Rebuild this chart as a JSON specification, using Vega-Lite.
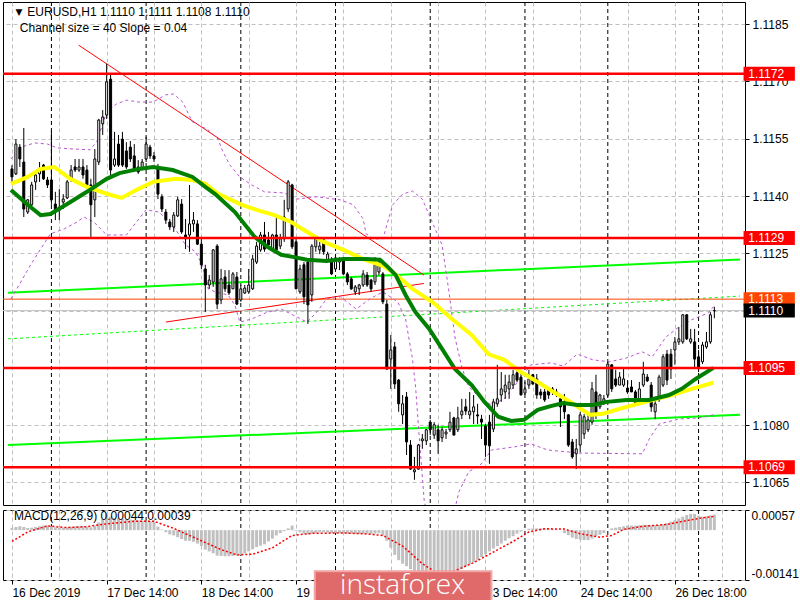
{
"$schema": "https://vega.github.io/schema/vega-lite/v6.json",
"background": "#ffffff",
"padding": {"left": 1, "top": 1, "right": 0, "bottom": 0},
"spacing": 2,
"config": {
 "view": {"stroke": "#000000", "strokeWidth": 1},
 "font": "Liberation Sans",
 "axis": {"labelFont": "Liberation Sans", "labelFontSize": 12, "labelColor": "#000000", "tickColor": "#000000", "gridColor": "#c0c0c0", "gridDash": [4, 3], "gridWidth": 1, "gridOpacity": 1, "domain": false},
 "text": {"font": "Liberation Sans", "fontSize": 12}
},
"datasets": {
 "seps": [{"i":10},{"i":34},{"i":58},{"i":82},{"i":106},{"i":130},{"i":151},{"i":174}],
 "levels": [{"p":1.1172},{"p":1.1129},{"p":1.1095},{"p":1.1069}],
 "order": [{"p":1.1113}],
 "bid": [{"p":1.111}],
 "tags": [{"p":1.1172,"k":"level"},{"p":1.1129,"k":"level"},{"p":1.1095,"k":"level"},{"p":1.1069,"k":"level"},{"p":1.1113,"k":"order"},{"p":1.111,"k":"bid"}],
 "chan": [{"s":"up","i":-1,"p":1.11147},{"s":"up","i":184.5,"p":1.11234},{"s":"mid","i":-1,"p":1.11026},{"s":"mid","i":184.5,"p":1.11138},{"s":"lo","i":-1,"p":1.10748},{"s":"lo","i":184.5,"p":1.10827}],
 "trend": [{"s":"a","i":16.9,"p":1.11795},{"s":"a","i":104.4,"p":1.11193},{"s":"b","i":39,"p":1.1107},{"s":"b","i":104.4,"p":1.11171}],
 "maY": [{"i":-0.25,"p":1.11432},{"i":4,"p":1.1145},{"i":7.25,"p":1.11471},{"i":10.75,"p":1.11476},{"i":14.75,"p":1.11445},{"i":19,"p":1.11424},{"i":24,"p":1.11406},{"i":27.75,"p":1.11395},{"i":31.5,"p":1.11416},{"i":35.75,"p":1.11437},{"i":41.5,"p":1.11445},{"i":45.75,"p":1.11442},{"i":49,"p":1.11432},{"i":52.25,"p":1.11406},{"i":58.25,"p":1.11377},{"i":62.25,"p":1.11363},{"i":66.5,"p":1.1135},{"i":70.75,"p":1.11332},{"i":74,"p":1.11311},{"i":79,"p":1.1128},{"i":84,"p":1.11259},{"i":89,"p":1.11235},{"i":94,"p":1.11217},{"i":96.5,"p":1.11201},{"i":101.5,"p":1.11157},{"i":106.5,"p":1.11123},{"i":111.5,"p":1.11078},{"i":116.5,"p":1.11036},{"i":120.75,"p":1.10986},{"i":124.75,"p":1.10971},{"i":129,"p":1.10939},{"i":133.25,"p":1.10913},{"i":137.25,"p":1.10887},{"i":141.5,"p":1.10861},{"i":146.5,"p":1.10827},{"i":149.75,"p":1.1083},{"i":155.75,"p":1.10848},{"i":162.25,"p":1.10866},{"i":167.25,"p":1.10879},{"i":172.25,"p":1.10895},{"i":177.75,"p":1.10911}],
 "maG": [{"i":-0.25,"p":1.11416},{"i":4,"p":1.11377},{"i":7.25,"p":1.1135},{"i":9.75,"p":1.11353},{"i":14,"p":1.11379},{"i":19,"p":1.11411},{"i":24,"p":1.11445},{"i":27.25,"p":1.1146},{"i":32.25,"p":1.11471},{"i":35.75,"p":1.11476},{"i":40.75,"p":1.11468},{"i":45.75,"p":1.1145},{"i":49,"p":1.11424},{"i":51.5,"p":1.11405},{"i":56.5,"p":1.11358},{"i":61.5,"p":1.11293},{"i":64.75,"p":1.11267},{"i":68.25,"p":1.11246},{"i":71.5,"p":1.1124},{"i":74.75,"p":1.11233},{"i":79.75,"p":1.1123},{"i":84,"p":1.11235},{"i":89.75,"p":1.11235},{"i":93.25,"p":1.11233},{"i":95.5,"p":1.11212},{"i":97.25,"p":1.11193},{"i":99.75,"p":1.11141},{"i":102.25,"p":1.11096},{"i":105.75,"p":1.11052},{"i":109,"p":1.11},{"i":112.25,"p":1.10947},{"i":116.5,"p":1.10905},{"i":119.75,"p":1.10861},{"i":123.25,"p":1.10822},{"i":126.5,"p":1.10811},{"i":129.75,"p":1.10814},{"i":133.25,"p":1.1084},{"i":136.5,"p":1.1085},{"i":139.75,"p":1.10858},{"i":143.25,"p":1.10853},{"i":147.25,"p":1.10853},{"i":150.75,"p":1.10861},{"i":155.75,"p":1.10866},{"i":161.5,"p":1.10866},{"i":166.5,"p":1.10879},{"i":169.75,"p":1.10895},{"i":173.25,"p":1.10921},{"i":177.75,"p":1.1095}],
 "bands": [
  {"s":"u","i":-0.25,"p":1.11497},{"s":"u","i":2.25,"p":1.11528},{"s":"u","i":5.75,"p":1.11539},{"s":"u","i":9,"p":1.11536},{"s":"u","i":11.5,"p":1.11526},{"s":"u","i":15.75,"p":1.11523},{"s":"u","i":19.75,"p":1.11521},{"s":"u","i":21.5,"p":1.11542},{"s":"u","i":24,"p":1.1162},{"s":"u","i":26.5,"p":1.11641},{"s":"u","i":29,"p":1.11651},{"s":"u","i":32.25,"p":1.11646},{"s":"u","i":35.75,"p":1.11646},{"s":"u","i":39,"p":1.11665},{"s":"u","i":41,"p":1.11667},{"s":"u","i":43.25,"p":1.11646},{"s":"u","i":45.75,"p":1.11594},{"s":"u","i":49.75,"p":1.11573},{"s":"u","i":52.25,"p":1.11549},{"s":"u","i":53.5,"p":1.11515},{"s":"u","i":55.25,"p":1.11481},{"s":"u","i":57.75,"p":1.1145},{"s":"u","i":60.75,"p":1.11429},{"s":"u","i":64,"p":1.11411},{"s":"u","i":69,"p":1.11408},{"s":"u","i":72.25,"p":1.11392},{"s":"u","i":77.25,"p":1.11398},{"s":"u","i":83.25,"p":1.1139},{"s":"u","i":86.5,"p":1.11377},{"s":"u","i":89,"p":1.1134},{"s":"u","i":89.75,"p":1.11301},{"s":"u","i":91.5,"p":1.11288},{"s":"u","i":94,"p":1.11288},{"s":"u","i":96.5,"p":1.11377},{"s":"u","i":99,"p":1.11405},{"s":"u","i":101.5,"p":1.11413},{"s":"u","i":104,"p":1.11392},{"s":"u","i":106.5,"p":1.11332},{"s":"u","i":109,"p":1.11272},{"s":"u","i":110.75,"p":1.11149},{"s":"u","i":112.25,"p":1.11031},{"s":"u","i":114,"p":1.10952},{"s":"u","i":115.75,"p":1.109},{"s":"u","i":119,"p":1.10869},{"s":"u","i":121.5,"p":1.10853},{"s":"u","i":124.75,"p":1.10869},{"s":"u","i":127.75,"p":1.10908},{"s":"u","i":131.5,"p":1.10958},{"s":"u","i":136.5,"p":1.10963},{"s":"u","i":139.75,"p":1.10955},{"s":"u","i":143.25,"p":1.10986},{"s":"u","i":147.25,"p":1.10971},{"s":"u","i":151.5,"p":1.10966},{"s":"u","i":155.75,"p":1.10976},{"s":"u","i":159.75,"p":1.10992},{"s":"u","i":162.25,"p":1.10979},{"s":"u","i":165.75,"p":1.11031},{"s":"u","i":169,"p":1.11057},{"s":"u","i":172.25,"p":1.11076},{"s":"u","i":176.5,"p":1.11094},{"s":"u","i":177.75,"p":1.1111},
  {"s":"l","i":-0.25,"p":1.11131},{"s":"l","i":2.25,"p":1.11175},{"s":"l","i":4.75,"p":1.1122},{"s":"l","i":7.25,"p":1.11261},{"s":"l","i":9.75,"p":1.11301},{"s":"l","i":13.25,"p":1.11314},{"s":"l","i":16.5,"p":1.11332},{"s":"l","i":18.25,"p":1.11345},{"s":"l","i":20.75,"p":1.11332},{"s":"l","i":24,"p":1.11298},{"s":"l","i":29,"p":1.11298},{"s":"l","i":34,"p":1.11364},{"s":"l","i":37.25,"p":1.11358},{"s":"l","i":40.75,"p":1.11324},{"s":"l","i":44,"p":1.11272},{"s":"l","i":46.5,"p":1.11254},{"s":"l","i":48.25,"p":1.1122},{"s":"l","i":49.75,"p":1.11157},{"s":"l","i":51.5,"p":1.11149},{"s":"l","i":54.75,"p":1.11141},{"s":"l","i":56.5,"p":1.11115},{"s":"l","i":57.75,"p":1.1107},{"s":"l","i":60.75,"p":1.11078},{"s":"l","i":64.75,"p":1.11096},{"s":"l","i":68.25,"p":1.11104},{"s":"l","i":74.75,"p":1.1107},{"s":"l","i":77.25,"p":1.11096},{"s":"l","i":79.75,"p":1.11131},{"s":"l","i":83.25,"p":1.11136},{"s":"l","i":87.25,"p":1.11104},{"s":"l","i":90.75,"p":1.11131},{"s":"l","i":94,"p":1.11149},{"s":"l","i":97.75,"p":1.11123},{"s":"l","i":99.75,"p":1.11078},{"s":"l","i":101.5,"p":1.10973},{"s":"l","i":102.25,"p":1.10905},{"s":"l","i":103.25,"p":1.10764},{"s":"l","i":104.5,"p":1.10599},{"s":"l","i":106.5,"p":1.10521},{"s":"l","i":109,"p":1.10494},{"s":"l","i":111.5,"p":1.10547},{"s":"l","i":113.25,"p":1.10625},{"s":"l","i":115.75,"p":1.10678},{"s":"l","i":119,"p":1.10699},{"s":"l","i":121.5,"p":1.10735},{"s":"l","i":127.25,"p":1.10743},{"s":"l","i":131.5,"p":1.10751},{"s":"l","i":135.75,"p":1.10735},{"s":"l","i":144,"p":1.10727},{"s":"l","i":159.75,"p":1.10725},{"s":"l","i":161.5,"p":1.10764},{"s":"l","i":164,"p":1.10803},{"s":"l","i":169,"p":1.10816},{"s":"l","i":174,"p":1.10819},{"s":"l","i":177.75,"p":1.10827}
 ],
 "candles": [
  {"i":0,"o":1.11471,"h":1.11481,"l":1.11432,"c":1.1145},
  {"i":1,"o":1.11458,"h":1.11549,"l":1.11455,"c":1.11536},
  {"i":2,"o":1.11528,"h":1.11536,"l":1.11476,"c":1.11497},
  {"i":3,"o":1.11489,"h":1.11578,"l":1.11345,"c":1.11366},
  {"i":4,"o":1.11358,"h":1.11392,"l":1.11353,"c":1.1139},
  {"i":5,"o":1.11377,"h":1.11437,"l":1.11374,"c":1.11429},
  {"i":6,"o":1.11437,"h":1.11468,"l":1.11416,"c":1.11455},
  {"i":7,"o":1.11458,"h":1.11489,"l":1.11437,"c":1.11468},
  {"i":8,"o":1.11481,"h":1.11484,"l":1.11442,"c":1.11445},
  {"i":9,"o":1.11442,"h":1.1145,"l":1.11421,"c":1.11429},
  {"i":10,"o":1.11442,"h":1.1157,"l":1.11377,"c":1.1139},
  {"i":11,"o":1.11379,"h":1.11411,"l":1.11337,"c":1.11358},
  {"i":12,"o":1.11363,"h":1.11418,"l":1.11337,"c":1.11371},
  {"i":13,"o":1.11384,"h":1.11405,"l":1.11366,"c":1.11392},
  {"i":14,"o":1.11395,"h":1.11442,"l":1.11392,"c":1.11437},
  {"i":15,"o":1.11445,"h":1.11481,"l":1.11437,"c":1.11468},
  {"i":16,"o":1.11476,"h":1.11497,"l":1.11463,"c":1.11468},
  {"i":17,"o":1.11468,"h":1.11497,"l":1.11463,"c":1.11476},
  {"i":18,"o":1.11476,"h":1.11497,"l":1.11445,"c":1.11455},
  {"i":19,"o":1.11468,"h":1.11481,"l":1.11418,"c":1.11429},
  {"i":20,"o":1.11429,"h":1.11445,"l":1.11288,"c":1.11377},
  {"i":21,"o":1.1139,"h":1.11523,"l":1.11345,"c":1.11497},
  {"i":22,"o":1.11489,"h":1.11602,"l":1.11481,"c":1.11599},
  {"i":23,"o":1.11589,"h":1.11625,"l":1.1156,"c":1.11607},
  {"i":24,"o":1.11612,"h":1.11746,"l":1.11602,"c":1.11699},
  {"i":25,"o":1.11706,"h":1.1172,"l":1.11455,"c":1.11468},
  {"i":26,"o":1.11481,"h":1.11568,"l":1.11476,"c":1.11497},
  {"i":27,"o":1.11536,"h":1.1156,"l":1.11476,"c":1.11481},
  {"i":28,"o":1.11549,"h":1.11568,"l":1.11476,"c":1.11481},
  {"i":29,"o":1.11518,"h":1.11541,"l":1.11471,"c":1.11476},
  {"i":30,"o":1.11528,"h":1.11544,"l":1.11489,"c":1.11497},
  {"i":31,"o":1.11505,"h":1.11536,"l":1.11463,"c":1.11468},
  {"i":32,"o":1.11476,"h":1.11494,"l":1.11458,"c":1.11463},
  {"i":33,"o":1.11471,"h":1.11497,"l":1.11468,"c":1.11489},
  {"i":34,"o":1.11497,"h":1.11555,"l":1.11489,"c":1.11536},
  {"i":35,"o":1.11528,"h":1.11534,"l":1.11497,"c":1.11505},
  {"i":36,"o":1.11505,"h":1.11515,"l":1.11489,"c":1.11497},
  {"i":37,"o":1.11476,"h":1.11484,"l":1.11392,"c":1.11405},
  {"i":38,"o":1.11398,"h":1.11405,"l":1.11358,"c":1.11366},
  {"i":39,"o":1.11358,"h":1.11366,"l":1.11327,"c":1.11337},
  {"i":40,"o":1.11332,"h":1.1134,"l":1.11311,"c":1.11319},
  {"i":41,"o":1.11319,"h":1.11358,"l":1.11306,"c":1.1135},
  {"i":42,"o":1.11348,"h":1.11398,"l":1.11345,"c":1.1139},
  {"i":43,"o":1.11379,"h":1.11392,"l":1.11301,"c":1.11306},
  {"i":44,"o":1.11298,"h":1.1134,"l":1.11261,"c":1.11288},
  {"i":45,"o":1.11298,"h":1.11429,"l":1.11254,"c":1.11327},
  {"i":46,"o":1.11327,"h":1.11358,"l":1.11306,"c":1.11337},
  {"i":47,"o":1.11327,"h":1.11337,"l":1.11272,"c":1.11274},
  {"i":48,"o":1.11274,"h":1.11293,"l":1.11209,"c":1.1122},
  {"i":49,"o":1.11209,"h":1.1122,"l":1.11096,"c":1.11167},
  {"i":50,"o":1.11167,"h":1.11193,"l":1.11157,"c":1.1118},
  {"i":51,"o":1.11175,"h":1.11261,"l":1.11162,"c":1.11259},
  {"i":52,"o":1.11269,"h":1.11274,"l":1.11104,"c":1.11117},
  {"i":53,"o":1.11128,"h":1.11209,"l":1.11117,"c":1.11183},
  {"i":54,"o":1.11188,"h":1.11206,"l":1.11149,"c":1.11157},
  {"i":55,"o":1.11167,"h":1.11206,"l":1.11141,"c":1.11146},
  {"i":56,"o":1.11157,"h":1.11201,"l":1.11157,"c":1.11196},
  {"i":57,"o":1.11188,"h":1.11201,"l":1.11115,"c":1.11117},
  {"i":58,"o":1.11128,"h":1.11167,"l":1.11123,"c":1.11157},
  {"i":59,"o":1.11146,"h":1.11167,"l":1.11144,"c":1.11159},
  {"i":60,"o":1.11149,"h":1.11209,"l":1.11144,"c":1.11167},
  {"i":61,"o":1.11157,"h":1.11246,"l":1.11154,"c":1.11235},
  {"i":62,"o":1.11227,"h":1.1128,"l":1.11222,"c":1.11269},
  {"i":63,"o":1.11259,"h":1.11306,"l":1.11254,"c":1.11298},
  {"i":64,"o":1.11298,"h":1.11332,"l":1.11254,"c":1.11261},
  {"i":65,"o":1.11285,"h":1.11306,"l":1.11261,"c":1.11272},
  {"i":66,"o":1.11259,"h":1.11301,"l":1.11254,"c":1.11298},
  {"i":67,"o":1.11298,"h":1.1135,"l":1.11254,"c":1.11259},
  {"i":68,"o":1.11269,"h":1.11301,"l":1.11261,"c":1.11288},
  {"i":69,"o":1.11288,"h":1.1139,"l":1.1128,"c":1.11345},
  {"i":70,"o":1.11366,"h":1.11442,"l":1.11358,"c":1.11437},
  {"i":71,"o":1.11429,"h":1.11432,"l":1.11261,"c":1.11267},
  {"i":72,"o":1.1128,"h":1.11288,"l":1.11157,"c":1.11157},
  {"i":73,"o":1.11149,"h":1.1122,"l":1.11144,"c":1.11209},
  {"i":74,"o":1.1122,"h":1.11227,"l":1.11117,"c":1.11136},
  {"i":75,"o":1.11227,"h":1.11235,"l":1.11065,"c":1.11115},
  {"i":76,"o":1.11141,"h":1.11274,"l":1.11123,"c":1.11269},
  {"i":77,"o":1.11267,"h":1.11293,"l":1.11254,"c":1.11288},
  {"i":78,"o":1.11259,"h":1.1128,"l":1.11248,"c":1.11269},
  {"i":79,"o":1.11285,"h":1.11288,"l":1.11246,"c":1.11254},
  {"i":80,"o":1.11233,"h":1.11254,"l":1.11227,"c":1.11248},
  {"i":81,"o":1.11235,"h":1.1124,"l":1.11193,"c":1.11196},
  {"i":82,"o":1.11209,"h":1.1124,"l":1.11206,"c":1.11238},
  {"i":83,"o":1.11227,"h":1.1124,"l":1.11206,"c":1.11235},
  {"i":84,"o":1.11235,"h":1.1124,"l":1.11193,"c":1.11196},
  {"i":85,"o":1.11196,"h":1.11201,"l":1.11167,"c":1.11175},
  {"i":86,"o":1.11183,"h":1.11188,"l":1.11154,"c":1.11157},
  {"i":87,"o":1.11149,"h":1.11167,"l":1.11141,"c":1.11162},
  {"i":88,"o":1.11157,"h":1.1117,"l":1.11141,"c":1.11167},
  {"i":89,"o":1.11167,"h":1.11206,"l":1.11162,"c":1.11196},
  {"i":90,"o":1.11193,"h":1.11201,"l":1.11162,"c":1.11167},
  {"i":91,"o":1.1118,"h":1.11183,"l":1.11149,"c":1.11157},
  {"i":92,"o":1.11175,"h":1.1124,"l":1.11167,"c":1.1122},
  {"i":93,"o":1.11201,"h":1.11235,"l":1.11193,"c":1.11227},
  {"i":94,"o":1.11196,"h":1.11201,"l":1.11117,"c":1.11123},
  {"i":95,"o":1.11117,"h":1.11128,"l":1.10945,"c":1.10947},
  {"i":96,"o":1.10973,"h":1.11036,"l":1.10895,"c":1.10997},
  {"i":97,"o":1.11005,"h":1.11018,"l":1.10895,"c":1.10908},
  {"i":98,"o":1.10918,"h":1.10921,"l":1.10835,"c":1.10856},
  {"i":99,"o":1.10827,"h":1.10879,"l":1.10803,"c":1.10856},
  {"i":100,"o":1.10874,"h":1.10887,"l":1.10722,"c":1.10756},
  {"i":101,"o":1.10748,"h":1.10761,"l":1.10683,"c":1.10685},
  {"i":102,"o":1.10678,"h":1.10717,"l":1.10657,"c":1.10683},
  {"i":103,"o":1.10685,"h":1.10751,"l":1.10683,"c":1.10748},
  {"i":104,"o":1.10759,"h":1.10777,"l":1.10738,"c":1.10764},
  {"i":105,"o":1.10759,"h":1.1079,"l":1.10748,"c":1.10788},
  {"i":106,"o":1.10808,"h":1.10814,"l":1.10774,"c":1.10788},
  {"i":107,"o":1.10774,"h":1.10808,"l":1.10764,"c":1.10801},
  {"i":108,"o":1.10788,"h":1.10801,"l":1.10725,"c":1.10759},
  {"i":109,"o":1.10767,"h":1.10795,"l":1.10756,"c":1.10788},
  {"i":110,"o":1.10777,"h":1.1079,"l":1.10764,"c":1.10782},
  {"i":111,"o":1.10788,"h":1.10835,"l":1.10782,"c":1.10808},
  {"i":112,"o":1.10819,"h":1.10822,"l":1.10774,"c":1.10774},
  {"i":113,"o":1.10788,"h":1.10848,"l":1.10782,"c":1.10819},
  {"i":114,"o":1.10827,"h":1.10869,"l":1.10816,"c":1.10837},
  {"i":115,"o":1.10848,"h":1.10869,"l":1.10827,"c":1.10837},
  {"i":116,"o":1.10827,"h":1.10887,"l":1.10816,"c":1.10837},
  {"i":117,"o":1.10835,"h":1.10879,"l":1.10803,"c":1.10848},
  {"i":118,"o":1.10827,"h":1.10856,"l":1.10803,"c":1.10824},
  {"i":119,"o":1.10816,"h":1.10827,"l":1.10764,"c":1.10808},
  {"i":120,"o":1.10798,"h":1.10803,"l":1.10717,"c":1.10748},
  {"i":121,"o":1.10808,"h":1.10827,"l":1.10699,"c":1.10746},
  {"i":122,"o":1.1079,"h":1.10869,"l":1.10782,"c":1.10861},
  {"i":123,"o":1.10856,"h":1.10958,"l":1.10848,"c":1.10869},
  {"i":124,"o":1.10879,"h":1.10939,"l":1.10861,"c":1.10895},
  {"i":125,"o":1.10887,"h":1.10932,"l":1.10869,"c":1.10905},
  {"i":126,"o":1.10895,"h":1.10932,"l":1.10869,"c":1.10913},
  {"i":127,"o":1.10905,"h":1.10945,"l":1.10895,"c":1.10932},
  {"i":128,"o":1.10937,"h":1.10947,"l":1.10913,"c":1.10918},
  {"i":129,"o":1.10926,"h":1.10939,"l":1.10879,"c":1.10879},
  {"i":130,"o":1.10884,"h":1.10913,"l":1.10879,"c":1.10895},
  {"i":131,"o":1.10905,"h":1.10945,"l":1.10895,"c":1.10921},
  {"i":132,"o":1.10932,"h":1.10934,"l":1.10905,"c":1.10908},
  {"i":133,"o":1.10921,"h":1.10934,"l":1.10869,"c":1.10879},
  {"i":134,"o":1.10887,"h":1.10895,"l":1.10869,"c":1.10879},
  {"i":135,"o":1.10887,"h":1.10895,"l":1.10861,"c":1.10866},
  {"i":136,"o":1.10895,"h":1.109,"l":1.10869,"c":1.10879},
  {"i":137,"o":1.10895,"h":1.109,"l":1.10879,"c":1.10887},
  {"i":138,"o":1.10879,"h":1.10895,"l":1.10874,"c":1.10887},
  {"i":139,"o":1.10869,"h":1.10879,"l":1.10795,"c":1.10848},
  {"i":140,"o":1.10861,"h":1.10882,"l":1.10816,"c":1.10835},
  {"i":141,"o":1.10827,"h":1.10829,"l":1.10743,"c":1.10748},
  {"i":142,"o":1.10756,"h":1.10764,"l":1.10712,"c":1.10717},
  {"i":143,"o":1.10725,"h":1.10764,"l":1.10685,"c":1.10738},
  {"i":144,"o":1.10748,"h":1.10835,"l":1.1073,"c":1.10827},
  {"i":145,"o":1.10777,"h":1.10829,"l":1.10764,"c":1.10822},
  {"i":146,"o":1.10788,"h":1.10827,"l":1.10782,"c":1.10814},
  {"i":147,"o":1.10808,"h":1.10913,"l":1.10801,"c":1.10895},
  {"i":148,"o":1.10887,"h":1.10932,"l":1.10816,"c":1.10827},
  {"i":149,"o":1.10848,"h":1.10882,"l":1.10842,"c":1.10879},
  {"i":150,"o":1.10861,"h":1.10879,"l":1.10853,"c":1.10869},
  {"i":151,"o":1.10879,"h":1.10966,"l":1.10874,"c":1.1096},
  {"i":152,"o":1.10958,"h":1.1096,"l":1.10887,"c":1.10895},
  {"i":153,"o":1.10921,"h":1.10945,"l":1.109,"c":1.10905},
  {"i":154,"o":1.10905,"h":1.10939,"l":1.10905,"c":1.10926},
  {"i":155,"o":1.10905,"h":1.10947,"l":1.109,"c":1.10921},
  {"i":156,"o":1.10897,"h":1.10918,"l":1.10882,"c":1.10887},
  {"i":157,"o":1.109,"h":1.10918,"l":1.10887,"c":1.10887},
  {"i":158,"o":1.10887,"h":1.10892,"l":1.10853,"c":1.10856},
  {"i":159,"o":1.10869,"h":1.10913,"l":1.10866,"c":1.10895},
  {"i":160,"o":1.10905,"h":1.10966,"l":1.109,"c":1.10934},
  {"i":161,"o":1.10926,"h":1.10934,"l":1.10913,"c":1.10916},
  {"i":162,"o":1.10905,"h":1.10913,"l":1.10835,"c":1.10848},
  {"i":163,"o":1.10835,"h":1.10869,"l":1.10816,"c":1.10856},
  {"i":164,"o":1.10866,"h":1.10932,"l":1.10861,"c":1.10926},
  {"i":165,"o":1.10905,"h":1.10986,"l":1.109,"c":1.10979},
  {"i":166,"o":1.10986,"h":1.10997,"l":1.10905,"c":1.10918},
  {"i":167,"o":1.10986,"h":1.11,"l":1.10921,"c":1.10947},
  {"i":168,"o":1.10997,"h":1.11031,"l":1.10958,"c":1.11018},
  {"i":169,"o":1.11018,"h":1.11057,"l":1.1101,"c":1.11026},
  {"i":170,"o":1.11018,"h":1.11091,"l":1.11013,"c":1.11089},
  {"i":171,"o":1.11089,"h":1.11091,"l":1.11023,"c":1.11026},
  {"i":172,"o":1.11018,"h":1.11052,"l":1.11013,"c":1.11026},
  {"i":173,"o":1.11018,"h":1.11052,"l":1.10947,"c":1.10973},
  {"i":174,"o":1.10979,"h":1.10997,"l":1.10939,"c":1.10952},
  {"i":175,"o":1.10966,"h":1.11018,"l":1.1096,"c":1.1101},
  {"i":176,"o":1.11005,"h":1.11044,"l":1.11,"c":1.11018},
  {"i":177,"o":1.11018,"h":1.11096,"l":1.11013,"c":1.11089},
  {"i":178,"o":1.111,"h":1.1111,"l":1.1108,"c":1.111}
 ],
 "macd": [
  {"i":0,"m":0.00006},{"i":1,"m":0.00009},{"i":2,"m":0.00011},{"i":3,"m":0.00009},{"i":4,"m":0.00006},{"i":5,"m":0.00007},{"i":6,"m":0.00009},{"i":7,"m":0.00011},{"i":8,"m":0.00013},{"i":9,"m":0.00013},
  {"i":10,"m":0.00011},{"i":11,"m":0.00008},{"i":12,"m":0.00007},{"i":13,"m":0.00007},{"i":14,"m":0.00008},{"i":15,"m":0.0001},{"i":16,"m":0.00011},{"i":17,"m":0.00011},{"i":18,"m":0.00011},{"i":19,"m":0.0001},
  {"i":20,"m":0.00008},{"i":21,"m":0.00012},{"i":22,"m":0.00022},{"i":23,"m":0.00032},{"i":24,"m":0.00048},{"i":25,"m":0.00038},{"i":26,"m":0.00035},{"i":27,"m":0.00033},{"i":28,"m":0.00032},{"i":29,"m":0.00031},
  {"i":30,"m":0.0003},{"i":31,"m":0.00029},{"i":32,"m":0.00028},{"i":33,"m":0.00027},{"i":34,"m":0.00027},{"i":35,"m":0.00026},{"i":36,"m":0.00024},{"i":37,"m":0.0001},{"i":38,"m":0.00002},{"i":39,"m":-0.00006},
  {"i":40,"m":-0.00012},{"i":41,"m":-0.00015},{"i":42,"m":-0.0002},{"i":43,"m":-0.00025},{"i":44,"m":-0.0003},{"i":45,"m":-0.0003},{"i":46,"m":-0.00033},{"i":47,"m":-0.00038},{"i":48,"m":-0.00045},{"i":49,"m":-0.00055},
  {"i":50,"m":-0.0006},{"i":51,"m":-0.00065},{"i":52,"m":-0.00072},{"i":53,"m":-0.00073},{"i":54,"m":-0.00074},{"i":55,"m":-0.00074},{"i":56,"m":-0.00073},{"i":57,"m":-0.00072},{"i":58,"m":-0.0007},{"i":59,"m":-0.00066},
  {"i":60,"m":-0.0006},{"i":61,"m":-0.00054},{"i":62,"m":-0.00048},{"i":63,"m":-0.00044},{"i":64,"m":-0.0004},{"i":65,"m":-0.00032},{"i":66,"m":-0.00024},{"i":67,"m":-0.00015},{"i":68,"m":-0.00008},{"i":69,"m":-0.00003},
  {"i":70,"m":0.00005},{"i":71,"m":0.00013},{"i":72,"m":-0.00002},{"i":73,"m":-0.00006},{"i":74,"m":-0.0001},{"i":75,"m":-0.00012},{"i":76,"m":-0.0001},{"i":77,"m":-0.00008},{"i":78,"m":-0.00006},{"i":79,"m":-0.00006},
  {"i":80,"m":-0.00007},{"i":81,"m":-0.00008},{"i":82,"m":-0.00008},{"i":83,"m":-0.00008},{"i":84,"m":-0.00009},{"i":85,"m":-0.0001},{"i":86,"m":-0.0001},{"i":87,"m":-0.00011},{"i":88,"m":-0.00011},{"i":89,"m":-0.0001},
  {"i":90,"m":-0.0001},{"i":91,"m":-0.00011},{"i":92,"m":-0.0001},{"i":93,"m":-0.00009},{"i":94,"m":-0.00015},{"i":95,"m":-0.0003},{"i":96,"m":-0.0005},{"i":97,"m":-0.0007},{"i":98,"m":-0.00085},{"i":99,"m":-0.00095},
  {"i":100,"m":-0.00102},{"i":101,"m":-0.0011},{"i":102,"m":-0.00118},{"i":103,"m":-0.00122},{"i":104,"m":-0.00128},{"i":105,"m":-0.00135},{"i":106,"m":-0.00141},{"i":107,"m":-0.00141},{"i":108,"m":-0.0014},{"i":109,"m":-0.00137},
  {"i":110,"m":-0.00133},{"i":111,"m":-0.00128},{"i":112,"m":-0.00122},{"i":113,"m":-0.00116},{"i":114,"m":-0.0011},{"i":115,"m":-0.00103},{"i":116,"m":-0.00096},{"i":117,"m":-0.0009},{"i":118,"m":-0.00084},{"i":119,"m":-0.00076},
  {"i":120,"m":-0.00068},{"i":121,"m":-0.0006},{"i":122,"m":-0.00052},{"i":123,"m":-0.00045},{"i":124,"m":-0.00038},{"i":125,"m":-0.0003},{"i":126,"m":-0.00023},{"i":127,"m":-0.00017},{"i":128,"m":-0.0001},{"i":129,"m":-0.00004},
  {"i":130,"m":0.00001},{"i":131,"m":0.00004},{"i":132,"m":0.00005},{"i":133,"m":0.00005},{"i":134,"m":0.00005},{"i":135,"m":0.00004},{"i":136,"m":0.00004},{"i":137,"m":0.00003},{"i":138,"m":0.00002},{"i":139,"m":0},
  {"i":140,"m":-0.00008},{"i":141,"m":-0.00014},{"i":142,"m":-0.00021},{"i":143,"m":-0.00025},{"i":144,"m":-0.00027},{"i":145,"m":-0.00028},{"i":146,"m":-0.00028},{"i":147,"m":-0.00024},{"i":148,"m":-0.00018},{"i":149,"m":-0.00013},
  {"i":150,"m":-0.00008},{"i":151,"m":0},{"i":152,"m":0.00005},{"i":153,"m":0.00007},{"i":154,"m":0.00009},{"i":155,"m":0.00011},{"i":156,"m":0.00013},{"i":157,"m":0.00013},{"i":158,"m":0.00013},{"i":159,"m":0.00014},
  {"i":160,"m":0.00015},{"i":161,"m":0.00015},{"i":162,"m":0.00014},{"i":163,"m":0.00014},{"i":164,"m":0.00015},{"i":165,"m":0.00017},{"i":166,"m":0.0002},{"i":167,"m":0.00024},{"i":168,"m":0.00028},{"i":169,"m":0.00033},
  {"i":170,"m":0.00038},{"i":171,"m":0.00043},{"i":172,"m":0.00046},{"i":173,"m":0.00046},{"i":174,"m":0.00041},{"i":175,"m":0.00038},{"i":176,"m":0.00039},{"i":177,"m":0.00042},{"i":178,"m":0.00044}
 ],
 "signal": [{"i":0,"s":-0.00032},{"i":4,"s":-0.00005},{"i":9,"s":0.00012},{"i":14,"s":0.00007},{"i":19,"s":0.0001},{"i":24,"s":0.00018},{"i":31,"s":0.00025},{"i":36,"s":0.00025},{"i":41,"s":0.00005},{"i":48,"s":-0.0003},{"i":53,"s":-0.00055},{"i":57,"s":-0.0007},{"i":61,"s":-0.00068},{"i":66,"s":-0.0005},{"i":71,"s":-0.00015},{"i":76,"s":-0.00009},{"i":84,"s":-0.00008},{"i":89,"s":-0.0001},{"i":94,"s":-0.00015},{"i":99,"s":-0.00045},{"i":104,"s":-0.00095},{"i":107,"s":-0.00116},{"i":112,"s":-0.00116},{"i":117,"s":-0.00092},{"i":122,"s":-0.00062},{"i":127,"s":-0.00032},{"i":131,"s":-0.00005},{"i":135,"s":0.00004},{"i":140,"s":0.00003},{"i":144,"s":-0.0001},{"i":149,"s":-0.0002},{"i":152,"s":-0.00015},{"i":155,"s":0.00002},{"i":160,"s":0.00011},{"i":166,"s":0.00016},{"i":170,"s":0.00025},{"i":174,"s":0.00033},{"i":178,"s":0.00039}]
},
"vconcat": [
 {
  "width": 742, "height": 503,
  "layer": [
   {"data": {"name": "seps"}, "mark": {"type": "rule", "color": "#000000", "strokeDash": [4, 3], "strokeWidth": 1},
    "encoding": {"x": {"field": "i", "type": "quantitative", "scale": {"domain": [-1, 184.5], "nice": false, "zero": false},
      "axis": {"values": [0,12,24,36,48,60,72,84,96,108,120,132,144,156,168,180], "labels": false, "ticks": false, "domain": false, "grid": true, "title": null}}}},
   {"data": {"name": "chan"}, "transform": [{"filter": "datum.s != 'mid'"}], "mark": {"type": "line", "color": "#00ff00", "strokeWidth": 2},
    "encoding": {"x": {"field": "i", "type": "quantitative", "scale": {"domain": [-1, 184.5], "nice": false, "zero": false}},
     "y": {"field": "p", "type": "quantitative", "scale": {"domain": [1.10591, 1.11908], "nice": false, "zero": false},
      "axis": {"orient": "right", "values": [1.1065,1.108,1.1095,1.111,1.1125,1.114,1.1155,1.117,1.1185], "grid": true, "title": null, "tickSize": 4, "labelPadding": 3, "domain": false,
       "labelExpr": "(abs(datum.value - 1.111) < 0.00001 || abs(datum.value - 1.1095) < 0.00001) ? '' : format(datum.value, '.4f')"}},
     "detail": {"field": "s"}}},
   {"data": {"name": "chan"}, "transform": [{"filter": "datum.s == 'mid'"}], "mark": {"type": "line", "color": "#00ff00", "strokeWidth": 1, "strokeDash": [3, 3]},
    "encoding": {"x": {"field": "i", "type": "quantitative", "scale": {"domain": [-1, 184.5], "nice": false, "zero": false}},
     "y": {"field": "p", "type": "quantitative", "scale": {"domain": [1.10591, 1.11908], "nice": false, "zero": false}}}},
   {"data": {"name": "trend"}, "mark": {"type": "line", "color": "#ff0000", "strokeWidth": 1},
    "encoding": {"x": {"field": "i", "type": "quantitative", "scale": {"domain": [-1, 184.5], "nice": false, "zero": false}},
     "y": {"field": "p", "type": "quantitative", "scale": {"domain": [1.10591, 1.11908], "nice": false, "zero": false}},
     "detail": {"field": "s"}}},
   {"data": {"name": "order"}, "mark": {"type": "rule", "color": "#ff4500", "strokeWidth": 1},
    "encoding": {"y": {"field": "p", "type": "quantitative", "scale": {"domain": [1.10591, 1.11908], "nice": false, "zero": false}}}},
   {"data": {"name": "bid"}, "mark": {"type": "rule", "color": "#c0c0c0", "strokeWidth": 1},
    "encoding": {"y": {"field": "p", "type": "quantitative", "scale": {"domain": [1.10591, 1.11908], "nice": false, "zero": false}}}},
   {"data": {"name": "bands"}, "mark": {"type": "line", "color": "#ba55d3", "strokeWidth": 1, "strokeDash": [3, 3], "clip": true},
    "encoding": {"x": {"field": "i", "type": "quantitative", "scale": {"domain": [-1, 184.5], "nice": false, "zero": false}},
     "y": {"field": "p", "type": "quantitative", "scale": {"domain": [1.10591, 1.11908], "nice": false, "zero": false}},
     "detail": {"field": "s"}}},
   {"data": {"name": "candles"}, "mark": {"type": "rule", "color": "#000000", "strokeWidth": 1},
    "encoding": {"x": {"field": "i", "type": "quantitative", "scale": {"domain": [-1, 184.5], "nice": false, "zero": false}},
     "y": {"field": "l", "type": "quantitative", "scale": {"domain": [1.10591, 1.11908], "nice": false, "zero": false}},
     "y2": {"field": "h"}}},
   {"data": {"name": "candles"}, "mark": {"type": "bar", "width": 2, "stroke": "#000000", "strokeWidth": 1},
    "encoding": {"x": {"field": "i", "type": "quantitative", "scale": {"domain": [-1, 184.5], "nice": false, "zero": false}},
     "y": {"field": "o", "type": "quantitative", "scale": {"domain": [1.10591, 1.11908], "nice": false, "zero": false}},
     "y2": {"field": "c"},
     "fill": {"condition": {"test": "datum.c >= datum.o", "value": "#ffffff"}, "value": "#000000"}}},
   {"data": {"name": "maY"}, "mark": {"type": "line", "color": "#ffff00", "strokeWidth": 4},
    "encoding": {"x": {"field": "i", "type": "quantitative", "scale": {"domain": [-1, 184.5], "nice": false, "zero": false}},
     "y": {"field": "p", "type": "quantitative", "scale": {"domain": [1.10591, 1.11908], "nice": false, "zero": false}}}},
   {"data": {"name": "maG"}, "mark": {"type": "line", "color": "#008000", "strokeWidth": 4},
    "encoding": {"x": {"field": "i", "type": "quantitative", "scale": {"domain": [-1, 184.5], "nice": false, "zero": false}},
     "y": {"field": "p", "type": "quantitative", "scale": {"domain": [1.10591, 1.11908], "nice": false, "zero": false}}}},
   {"data": {"name": "levels"}, "mark": {"type": "rule", "color": "#ff0000", "strokeWidth": 2.5},
    "encoding": {"y": {"field": "p", "type": "quantitative", "scale": {"domain": [1.10591, 1.11908], "nice": false, "zero": false}}}},
   {"data": {"name": "tags"}, "mark": {"type": "rect", "yOffset": -7, "y2Offset": 7},
    "encoding": {"x": {"datum": 185.4, "type": "quantitative", "scale": {"domain": [-1, 184.5], "nice": false, "zero": false}},
     "x2": {"datum": 198.4},
     "y": {"field": "p", "type": "quantitative", "scale": {"domain": [1.10591, 1.11908], "nice": false, "zero": false}},
     "y2": {"field": "p"},
     "fill": {"field": "k", "type": "nominal", "scale": {"domain": ["level", "order", "bid"], "range": ["#ff0000", "#ff4500", "#000000"]}, "legend": null}}},
   {"data": {"name": "tags"}, "mark": {"type": "text", "color": "#ffffff", "align": "left", "baseline": "middle", "fontSize": 12},
    "encoding": {"x": {"datum": 186.6, "type": "quantitative", "scale": {"domain": [-1, 184.5], "nice": false, "zero": false}},
     "y": {"field": "p", "type": "quantitative", "scale": {"domain": [1.10591, 1.11908], "nice": false, "zero": false}},
     "text": {"field": "p", "type": "quantitative", "format": ".4f"}}},
   {"data": {"values": [{}]}, "mark": {"type": "text", "text": "▼", "align": "center", "baseline": "middle", "fontSize": 9, "font": "DejaVu Sans", "color": "#000000"},
    "encoding": {"x": {"datum": 1.8, "type": "quantitative", "scale": {"domain": [-1, 184.5], "nice": false, "zero": false}},
     "y": {"datum": 1.11882, "type": "quantitative", "scale": {"domain": [1.10591, 1.11908], "nice": false, "zero": false}}}},
   {"data": {"values": [{}]}, "mark": {"type": "text", "text": "EURUSD,H1  1.1110 1.1111 1.1108 1.1110", "align": "left", "baseline": "middle", "fontSize": 12, "color": "#000000"},
    "encoding": {"x": {"datum": 3.9, "type": "quantitative", "scale": {"domain": [-1, 184.5], "nice": false, "zero": false}},
     "y": {"datum": 1.11882, "type": "quantitative", "scale": {"domain": [1.10591, 1.11908], "nice": false, "zero": false}}}},
   {"data": {"values": [{}]}, "mark": {"type": "text", "text": "Channel size = 40 Slope = 0.04", "align": "left", "baseline": "middle", "fontSize": 12, "color": "#000000"},
    "encoding": {"x": {"datum": 2, "type": "quantitative", "scale": {"domain": [-1, 184.5], "nice": false, "zero": false}},
     "y": {"datum": 1.1184, "type": "quantitative", "scale": {"domain": [1.10591, 1.11908], "nice": false, "zero": false}}}}
  ]
 },
 {
  "width": 742, "height": 70,
  "layer": [
   {"data": {"name": "seps"}, "mark": {"type": "rule", "color": "#000000", "strokeDash": [4, 3], "strokeWidth": 1},
    "encoding": {"x": {"field": "i", "type": "quantitative", "scale": {"domain": [-1, 184.5], "nice": false, "zero": false},
      "axis": {"values": [0,12,24,36,48,60,72,84,96,108,120,132,144,156,168,180], "grid": true, "title": null, "domain": false, "tickSize": 4, "labelAlign": "left", "labelPadding": 3, "labelOverlap": false, "labelBound": false, "labelFlush": false,
       "tickOpacity": {"condition": {"test": "datum.value % 24 == 0", "value": 1}, "value": 0},
       "labelExpr": "datum.value == 0 ? '16 Dec 2019' : datum.value == 24 ? '17 Dec 14:00' : datum.value == 48 ? '18 Dec 14:00' : datum.value == 72 ? '19 Dec 14:00' : datum.value == 96 ? '20 Dec 14:00' : datum.value == 120 ? '23 Dec 14:00' : datum.value == 144 ? '24 Dec 14:00' : datum.value == 168 ? '26 Dec 18:00' : ''"}}}},
   {"data": {"name": "macd"}, "mark": {"type": "bar", "width": 3, "color": "#c0c0c0"},
    "encoding": {"x": {"field": "i", "type": "quantitative", "scale": {"domain": [-1, 184.5], "nice": false, "zero": false}},
     "y": {"field": "m", "type": "quantitative", "scale": {"domain": [-0.00141, 0.00057], "nice": false, "zero": false},
      "axis": {"orient": "right", "values": [0.00057, 0, -0.00141], "grid": true, "title": null, "tickSize": 4, "labelPadding": 2, "domain": false, "labelFlush": true,
       "labelExpr": "datum.value > 0.0005 ? '0.00057' : datum.value < -0.001 ? '-0.00141' : '0.00'"}},
     "y2": {"datum": 0}}},
   {"data": {"name": "signal"}, "mark": {"type": "line", "color": "#ff0000", "strokeWidth": 1.5, "strokeDash": [2, 2]},
    "encoding": {"x": {"field": "i", "type": "quantitative", "scale": {"domain": [-1, 184.5], "nice": false, "zero": false}},
     "y": {"field": "s", "type": "quantitative", "scale": {"domain": [-0.00141, 0.00057], "nice": false, "zero": false}}}},
   {"data": {"values": [{}]}, "mark": {"type": "text", "text": "MACD(12,26,9) 0.00044 0.00039", "align": "left", "baseline": "middle", "fontSize": 12, "color": "#000000"},
    "encoding": {"x": {"datum": 0.5, "type": "quantitative", "scale": {"domain": [-1, 184.5], "nice": false, "zero": false}},
     "y": {"datum": 0.0004, "type": "quantitative", "scale": {"domain": [-0.00141, 0.00057], "nice": false, "zero": false}}}},
   {"data": {"values": [{}]}, "mark": {"type": "rect", "color": "#e06a6a", "stroke": "#f2a5a5", "strokeWidth": 2},
    "encoding": {"x": {"datum": 76.75, "type": "quantitative", "scale": {"domain": [-1, 184.5], "nice": false, "zero": false}},
     "x2": {"datum": 121.5},
     "y": {"datum": -0.00116, "type": "quantitative", "scale": {"domain": [-0.00141, 0.00057], "nice": false, "zero": false}},
     "y2": {"datum": -0.0021}}},
   {"data": {"values": [{}]}, "mark": {"type": "text", "text": "instaforex", "align": "center", "baseline": "middle", "fontSize": 28, "font": "Open Sans", "fontWeight": 300, "color": "#ffffff"},
    "encoding": {"x": {"datum": 99, "type": "quantitative", "scale": {"domain": [-1, 184.5], "nice": false, "zero": false}},
     "y": {"datum": -0.00158, "type": "quantitative", "scale": {"domain": [-0.00141, 0.00057], "nice": false, "zero": false}}}}
  ]
 }
]
}
